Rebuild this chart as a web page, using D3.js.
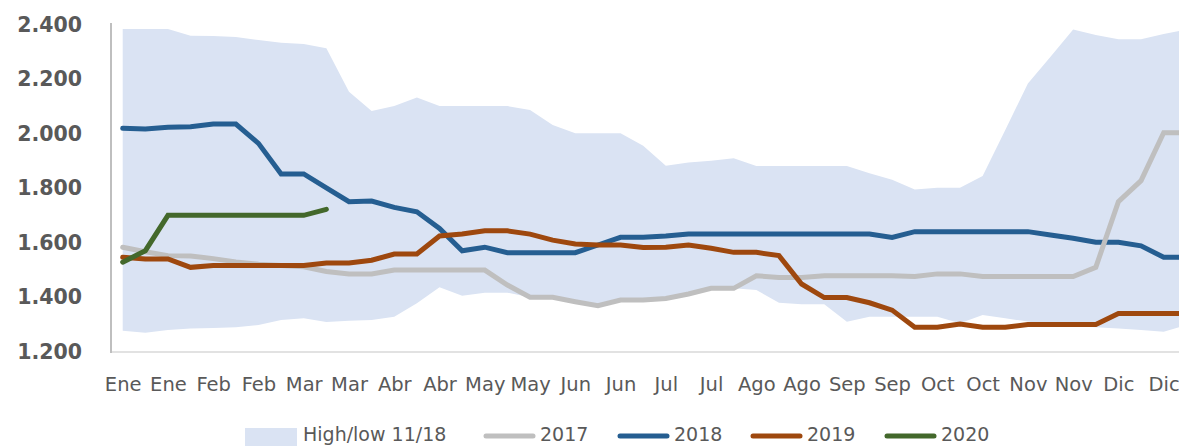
<!DOCTYPE html>
<html>
<head>
<meta charset="utf-8">
<script src="https://cdn.jsdelivr.net/npm/d3@7"></script>
<style>
  html, body { margin: 0; padding: 0; background: #ffffff; overflow: hidden; }
  svg { display: block; }
</style>
</head>
<body>
<svg id="chart" width="1179" height="446"></svg>
<script>
// ---- data (weekly points, axis labelled every other week) ----
const xLabels = ["Ene","Ene","Feb","Feb","Mar","Mar","Abr","Abr","May","May","Jun","Jun",
                 "Jul","Jul","Ago","Ago","Sep","Sep","Oct","Oct","Nov","Nov","Dic","Dic"];
const weeks = d3.range(48);
const yTicks = [1.2, 1.4, 1.6, 1.8, 2.0, 2.2, 2.4];

const bandHigh = [2.382,2.382,2.382,2.357,2.356,2.352,2.341,2.331,2.327,2.311,2.151,2.081,
                  2.099,2.130,2.099,2.099,2.099,2.099,2.084,2.029,1.999,1.999,1.999,1.953,
                  1.880,1.892,1.898,1.907,1.879,1.879,1.879,1.879,1.879,1.852,1.828,1.793,
                  1.799,1.799,1.842,2.011,2.182,2.280,2.380,2.360,2.344,2.344,2.363,2.380];
const bandLow  = [1.274,1.267,1.277,1.283,1.284,1.287,1.295,1.314,1.320,1.306,1.311,1.314,
                  1.326,1.375,1.434,1.403,1.414,1.414,1.397,1.397,1.381,1.366,1.387,1.387,
                  1.393,1.409,1.430,1.430,1.424,1.377,1.372,1.372,1.307,1.326,1.326,1.326,
                  1.326,1.302,1.332,1.320,1.308,1.295,1.290,1.287,1.283,1.277,1.271,1.295];
const s2017 = [1.581,1.564,1.550,1.549,1.539,1.527,1.518,1.514,1.509,1.492,1.483,1.483,
               1.497,1.497,1.497,1.497,1.497,1.442,1.397,1.397,1.381,1.366,1.387,1.387,
               1.393,1.409,1.430,1.430,1.476,1.470,1.470,1.476,1.476,1.476,1.476,1.473,
               1.483,1.483,1.473,1.473,1.473,1.473,1.473,1.507,1.748,1.825,2.001,2.001];
const s2018 = [2.017,2.015,2.021,2.023,2.033,2.033,1.962,1.850,1.850,1.799,1.748,1.750,
               1.727,1.711,1.650,1.568,1.581,1.561,1.561,1.561,1.561,1.589,1.617,1.617,
               1.622,1.629,1.629,1.629,1.629,1.629,1.629,1.629,1.629,1.629,1.617,1.638,
               1.638,1.638,1.638,1.638,1.638,1.626,1.614,1.599,1.599,1.586,1.544,1.544];
const s2019 = [1.544,1.538,1.538,1.507,1.514,1.514,1.514,1.514,1.514,1.523,1.523,1.533,
               1.556,1.556,1.622,1.629,1.641,1.641,1.629,1.607,1.593,1.589,1.589,1.580,
               1.581,1.589,1.577,1.562,1.562,1.550,1.446,1.396,1.396,1.377,1.350,1.287,
               1.287,1.299,1.287,1.287,1.297,1.297,1.297,1.297,1.338,1.338,1.338,1.338];
const s2020 = [1.526,1.568,1.698,1.698,1.698,1.698,1.698,1.698,1.698,1.720];

const seriesNames  = ["2017","2018","2019","2020"];
const seriesValues = [s2017, s2018, s2019, s2020];
const seriesColors = ["#BFBFBF","#255E91","#9E480E","#43682B"];
const bandName = "High/low 11/18";
const bandColor = "#DAE3F3";

// ---- layout ----
const svg = d3.select("#chart");
const x = d3.scalePoint().domain(weeks).range([122.7, 122.7 + 47 * 22.63]);
const y = d3.scaleLinear().domain([1.2, 2.4]).range([351, 24]);
const font = "'DejaVu Sans', sans-serif";
const textColor = "#595959";

// band
const area = d3.area()
  .x((d, i) => x(i))
  .y0((d, i) => y(bandLow[i]))
  .y1(d => y(d));
svg.append("path").datum(bandHigh).attr("d", area).attr("fill", bandColor);

// axes lines
svg.append("line").attr("x1", 111).attr("x2", 1179).attr("y1", 352).attr("y2", 352)
  .attr("stroke", "#D9D9D9").attr("stroke-width", 1.5);
svg.append("line").attr("x1", 111).attr("x2", 111).attr("y1", 23).attr("y2", 353)
  .attr("stroke", "#BFBFBF").attr("stroke-width", 2);

// lines: draw order blue, gray, orange, green
const line = d3.line().x((d, i) => x(i)).y(d => y(d));
[1, 0, 2, 3].forEach(k => {
  svg.append("path").datum(seriesValues[k]).attr("d", line)
    .attr("fill", "none").attr("stroke", seriesColors[k])
    .attr("stroke-width", 5).attr("stroke-linejoin", "miter")
    .attr("stroke-linecap", "round");
});

// y axis
const yAxis = d3.axisLeft(y).tickValues(yTicks).tickFormat(d3.format(".3f")).tickSize(0).tickPadding(0);
const gy = svg.append("g").attr("transform", "translate(82,0)").call(yAxis);
gy.select(".domain").remove();
gy.selectAll("text").attr("font-family", font).attr("font-weight", "bold")
  .attr("font-size", "20.5px").attr("fill", textColor).attr("dy", "0.36em");

// x axis
const labelWeeks = weeks.filter(w => w % 2 === 0);
const xAxis = d3.axisBottom(x).tickValues(labelWeeks)
  .tickFormat(w => xLabels[w / 2]).tickSize(0).tickPadding(0);
const gx = svg.append("g").attr("transform", "translate(0,391)").call(xAxis);
gx.select(".domain").remove();
gx.selectAll("text").attr("font-family", font).attr("font-size", "19.5px")
  .attr("fill", textColor).attr("dy", "0");

// legend
const legendY = 436;
const lg = svg.append("g").attr("font-family", font).attr("font-size", "19px").attr("fill", textColor);
lg.append("rect").attr("x", 245).attr("y", 428).attr("width", 52).attr("height", 18).attr("fill", bandColor);
lg.append("text").attr("x", 303).attr("y", 441).text(bandName);
const legendX = [483, 617, 750, 884];
seriesNames.forEach((n, k) => {
  lg.append("line").attr("x1", legendX[k] + 3).attr("x2", legendX[k] + 50)
    .attr("y1", legendY).attr("y2", legendY)
    .attr("stroke", seriesColors[k]).attr("stroke-width", 5).attr("stroke-linecap", "round");
  lg.append("text").attr("x", legendX[k] + 57).attr("y", 441).text(n);
});
</script>
</body>
</html>
